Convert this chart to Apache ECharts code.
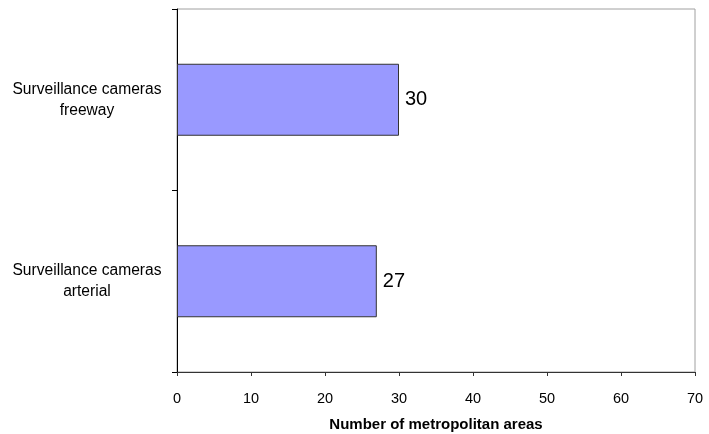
<!DOCTYPE html>
<html><head><meta charset="utf-8">
<script src="https://cdn.jsdelivr.net/npm/echarts@6/dist/echarts.min.js"></script>
<style>html,body{margin:0;padding:0;background:#fff}#c{width:709px;height:434px}</style>
</head><body><div id="c"></div>
<script>
var categories = ['Surveillance cameras\narterial', 'Surveillance cameras\nfreeway'];
var values = [27, 30];
var xTicks = [0, 10, 20, 30, 40, 50, 60, 70];
var xName = 'Number of metropolitan areas';

var chart = echarts.init(document.getElementById('c'));
chart.setOption({
  animation: false,
  textStyle: { fontFamily: 'Liberation Sans, Arial, sans-serif' },
  grid: { left: 177, right: 14, top: 9, bottom: 62, outerBoundsMode: 'none', containLabel: false,
    show: true, borderColor: '#a0a0a0', borderWidth: 1, backgroundColor: '#fff' },
  xAxis: {
    type: 'value', min: xTicks[0], max: xTicks[xTicks.length - 1], interval: 10,
    name: xName, nameLocation: 'middle', nameGap: 45,
    nameTextStyle: { fontWeight: 'bold', fontSize: 15, color: '#000' },
    axisLine: { show: true, lineStyle: { color: '#333', width: 1 } },
    axisTick: { show: true, length: 4, lineStyle: { color: '#333' } },
    axisLabel: { fontSize: 14.5, color: '#000', margin: 19 },
    splitLine: { show: false }
  },
  yAxis: {
    type: 'category', data: categories,
    axisLine: { show: true, lineStyle: { color: '#000', width: 1 } },
    axisTick: { show: true, length: 5, lineStyle: { color: '#000' } },
    axisLabel: {
      color: '#000', margin: 14, align: 'right',
      formatter: function (v) {
        return v.split('\n').map(function (s) { return '{a|' + s + '}'; }).join('\n');
      },
      rich: { a: { width: 152, align: 'center', fontSize: 15.6, lineHeight: 21, color: '#000' } }
    },
    splitLine: { show: false }
  },
  series: [{
    type: 'bar', data: values, barWidth: 72,
    itemStyle: { color: '#9999ff', borderColor: '#333', borderWidth: 1 },
    label: { show: true, position: 'right', distance: 6, fontSize: 20, color: '#000' }
  }]
});
</script></body></html>
